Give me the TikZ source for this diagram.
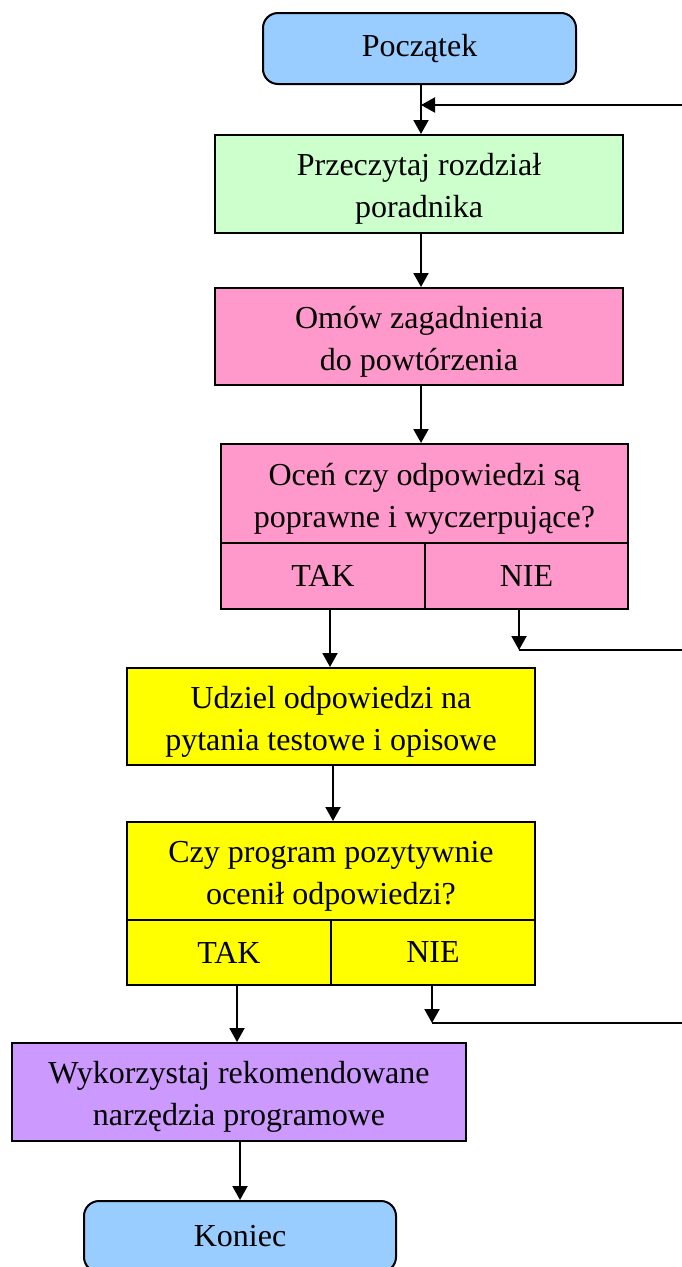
\documentclass[tikz,border=0pt]{standalone}
\usepackage{fontspec}
\setmainfont{Liberation Serif}
\usetikzlibrary{arrows.meta}
\definecolor{cblue}{HTML}{99CCFF}
\definecolor{cgreen}{HTML}{CCFFCC}
\definecolor{cpink}{HTML}{FF99CC}
\definecolor{cyellow}{HTML}{FFFF00}
\definecolor{cpurple}{HTML}{CC99FF}
\begin{document}
\begin{tikzpicture}[x=1pt,y=-1pt,
 box/.style={draw=black,line width=2pt,align=center,inner sep=0pt,font=\fontsize{32}{41}\selectfont},
 term/.style={box,rounded corners=15pt},
 tl/.style={align=center,inner sep=0pt,font=\fontsize{32}{42}\selectfont,yshift=-5pt},
 arr/.style={line width=2pt,-{Triangle[length=14pt,width=15pt]}},
 conn/.style={line width=2pt}]
\useasboundingbox (0,0) rectangle (682,1267);
\clip (0,0) rectangle (682,1267);
\fill[white] (0,0) rectangle (682,1267);
\node[term,fill=cblue,minimum width=313pt,minimum height=71pt] (start) at (419.5,48.5) {Początek};
\node[box,fill=cgreen,minimum width=408pt,minimum height=98pt,label={[tl]center:Przeczytaj rozdział\\poradnika}] (p1) at (419,184) {};
\node[box,fill=cpink,minimum width=408pt,minimum height=97pt,label={[tl]center:Omów zagadnienia\\do powtórzenia}] (p2) at (419,336.5) {};
\node[box,fill=cpink,minimum width=407pt,minimum height=99pt,label={[tl]center:Oceń czy odpowiedzi są\\poprawne i wyczerpujące?}] (q1) at (424.5,493.5) {};
\node[box,fill=cpink,minimum width=204pt,minimum height=66pt] (tak1) at (323,576) {TAK};
\node[box,fill=cpink,minimum width=203pt,minimum height=66pt] (nie1) at (526.5,576) {NIE};
\node[box,fill=cyellow,minimum width=408pt,minimum height=97pt,label={[tl]center:Udziel odpowiedzi na\\pytania testowe i opisowe}] (u) at (331,716.5) {};
\node[box,fill=cyellow,minimum width=408pt,minimum height=98pt,label={[tl]center:Czy program pozytywnie\\ocenił odpowiedzi?}] (q2) at (331,871) {};
\node[box,fill=cyellow,minimum width=204pt,minimum height=65pt] (tak2) at (229,952.5) {TAK};
\node[box,fill=cyellow,minimum width=204pt,minimum height=65pt] (nie2) at (433,952.5) {NIE};
\node[box,fill=cpurple,minimum width=454pt,minimum height=98pt,label={[tl]center:Wykorzystaj rekomendowane\\narzędzia programowe}] (w) at (239,1092) {};
\node[term,fill=cblue,minimum width=312pt,minimum height=71pt] (end) at (240,1236.5) {Koniec};
% connectors
\draw[arr] ([xshift=1.5pt]start.south) -- ([xshift=1.5pt]start.south |- p1.north);
\coordinate (fbR) at (682,105);
\coordinate (fbL) at ([xshift=1.5pt]start.south |- fbR);
\draw[arr] (fbR) -- (fbL);
\draw[arr] ([xshift=2pt]p1.south) -- ([xshift=2pt]p1.south |- p2.north);
\draw[arr] ([xshift=2pt]p2.south) -- ([xshift=2pt]p2.south |- q1.north);
\draw[arr] ([xshift=7pt]tak1.south) -- ([xshift=7pt]tak1.south |- u.north);
\coordinate (n1a) at (519,650);
\coordinate (n1b) at (682,650);
\draw[arr] (nie1.south -| n1a) -- (n1a);
\draw[conn] (n1a) -- (n1b);
\draw[arr] ([xshift=2pt]u.south) -- ([xshift=2pt]u.south |- q2.north);
\draw[arr] ([xshift=8pt]tak2.south) -- ([xshift=8pt]tak2.south |- w.north);
\coordinate (n2a) at (432,1023);
\coordinate (n2b) at (682,1023);
\draw[arr] (nie2.south -| n2a) -- (n2a);
\draw[conn] (n2a) -- (n2b);
\draw[arr] ([xshift=1pt]w.south) -- ([xshift=1pt]w.south |- end.north);
\end{tikzpicture}
\end{document}
